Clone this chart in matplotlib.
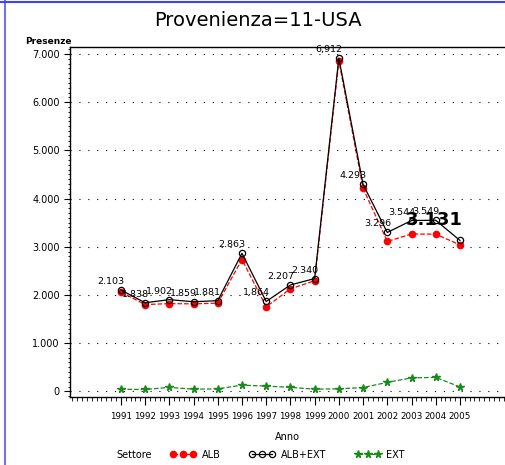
#!/usr/bin/env python3

from matplotlib import pyplot as plt
from matplotlib.ticker import MultipleLocator, FuncFormatter
from matplotlib.lines import Line2D

years = [1991, 1992, 1993, 1994, 1995, 1996, 1997, 1998, 1999, 2000, 2001, 2002, 2003, 2004, 2005]
alb_ext = [2103, 1838, 1902, 1859, 1881, 2863, 1864, 2207, 2340, 6912, 4293, 3296, 3544, 3549, 3131]
alb = [2060, 1800, 1820, 1815, 1830, 2735, 1755, 2125, 2295, 6860, 4215, 3110, 3265, 3260, 3040]
ext = [43, 38, 82, 44, 51, 128, 109, 82, 45, 52, 78, 186, 279, 289, 91]
labels = ['2.103', '1.838', '1.902', '1.859', '1.881', '2.863', '1.864', '2.207', '2.340',
          '6,912', '4.293', '3.296', '3.544', '3.549', '3.131']

fig = plt.figure(figsize=(5.05, 4.65), dpi=100)
ax = fig.add_axes([0.1386, 0.146, 0.8614, 0.753])

ax.plot(years, ext, color='#1a8a1a', linestyle='--', linewidth=0.9, marker='*',
        markersize=5.5, label='EXT', zorder=2)
ax.plot(years, alb, color='red', linestyle='--', linewidth=0.9, marker='o',
        markersize=4.5, markeredgecolor='red', label='ALB', zorder=3)
ax.plot(years, alb_ext, color='black', linestyle='-', linewidth=0.9, marker='o',
        markersize=4.5, markerfacecolor='none', markeredgewidth=0.9, label='ALB+EXT', zorder=4)

for x, y, t in zip(years[:-1], alb_ext[:-1], labels[:-1]):
    ax.annotate(t, (x, y), xytext=(-10, 4), textcoords='offset pixels',
                ha='center', va='bottom', fontsize=6.8, zorder=5)
# the last label is drawn big and bold, like in the original
ax.annotate(labels[-1], (years[-1], alb_ext[-1]), xytext=(-26, 20), textcoords='offset pixels',
            ha='center', va='center', fontsize=13, fontweight='bold', zorder=5)

ax.set_xlim(1988.9, 2006.86)
ax.set_ylim(-120, 7145)
ax.set_xticks(years)
ax.set_xticklabels([str(y) for y in years], fontsize=6.3)
ax.xaxis.set_minor_locator(MultipleLocator(0.2))
ax.yaxis.set_major_locator(MultipleLocator(1000))
ax.yaxis.set_minor_locator(MultipleLocator(100))
ax.yaxis.set_major_formatter(FuncFormatter(lambda v, p: f'{int(v):,}'.replace(',', '.')))
ax.tick_params(axis='y', labelsize=7, length=4, width=0.8)
ax.tick_params(axis='y', which='minor', length=1.5, width=0.6)
ax.tick_params(axis='x', which='major', length=5.5, width=0.8, pad=5)
ax.tick_params(axis='x', which='minor', length=3, width=0.6)

ax.spines['right'].set_visible(False)
for s in ['left', 'bottom', 'top']:
    ax.spines[s].set_linewidth(1.0)
ax.grid(axis='y', color='black', linestyle=(0, (1, 7)), linewidth=0.8)
ax.set_axisbelow(True)

ax.set_xlabel('Anno', fontsize=7, labelpad=8)
fig.text(0.05, 0.900, 'Presenze', fontsize=6.5, fontweight='bold', va='bottom')
fig.text(0.51, 0.955, 'Provenienza=11-USA', fontsize=14, ha='center', va='center',
         color='black')

handles, names = ax.get_legend_handles_labels()
order = [1, 2, 0]
leg = fig.legend([handles[i] for i in order], [names[i] for i in order],
                 loc='center left', bbox_to_anchor=(0.32, 0.022), ncol=3, frameon=False,
                 numpoints=3, fontsize=7, handlelength=2.6, columnspacing=3.0, handletextpad=0.6)
fig.text(0.23, 0.022, 'Settore', fontsize=7, va='center')

# blue page border seen on the left and top
fig.add_artist(Line2D([0.009, 0.009], [0, 1], transform=fig.transFigure, color='#7070ff', linewidth=1.5))
fig.add_artist(Line2D([0, 1], [0.995, 0.995], transform=fig.transFigure, color='#4040ff', linewidth=1.5))

plt.savefig('out.png', dpi=100)
